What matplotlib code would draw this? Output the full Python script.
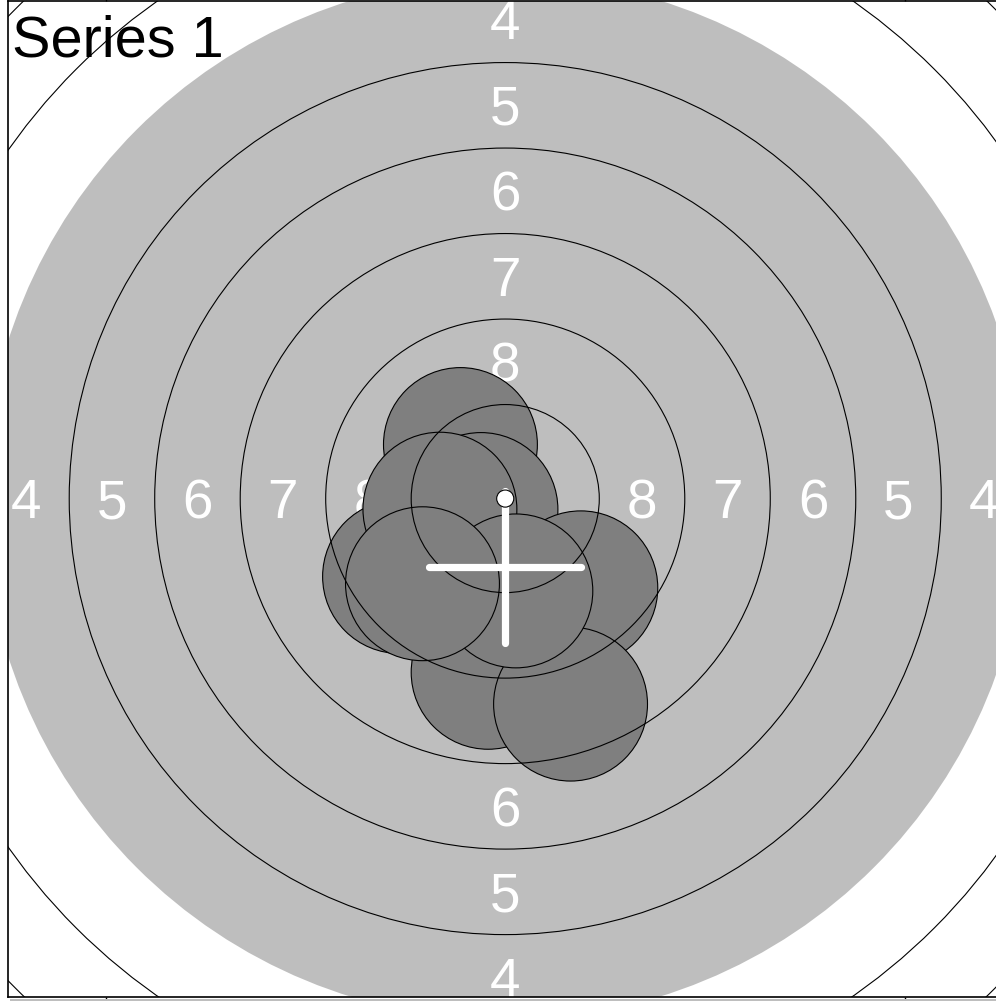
import matplotlib
matplotlib.use("Agg")
import matplotlib.pyplot as plt
from matplotlib.patches import Circle, Rectangle

# ---- data (mm, target centre = 0,0) ----
title = "Series 1"
ring_numbers = [10, 9, 8, 7, 6, 5, 4, 3, 2, 1]
ring_radii = [0.25, 2.75, 5.25, 7.75, 10.25, 12.75, 15.25, 17.75, 20.25, 22.75]
black_ring = 4                      # aiming mark covers rings 4..9
label_rings = [8, 7, 6, 5, 4, 3, 2, 1]
# shots in firing order
shot_x = [-1.31, -0.71, 2.21, -3.09, -1.91, -0.50, 1.91, 0.31, -2.42]
shot_y = [1.58, -0.32, -2.61, -2.28, -0.31, -5.08, -6.01, -2.70, -2.49]
pellet_radius = 2.25
cross_center = (0.0, -2.0)
cross_half = 2.22
tick_pos = [-11.68, 11.68]

W, H = 996, 1001
fig = plt.figure(figsize=(W / 100, H / 100), dpi=100)
ax = fig.add_axes([8 / W, (H - 996.5) / H, 995.5 / W, 995.5 / H])
ax.set_xlim(-14.54, 14.57)
ax.set_ylim(-14.56, 14.55)
ax.set_aspect("auto")

ring_r = dict(zip(ring_numbers, ring_radii))

# gray aiming mark
ax.add_patch(Circle((0, 0), ring_r[black_ring], facecolor="#BEBEBE",
                    edgecolor="none", zorder=1))

# ring labels (visually centred on ring mid-radius)
fs = 39.5
for k in label_rings:
    r_mid = ring_r[k] - 1.25
    col = "white" if k >= black_ring else "black"
    for (dx, dy) in [(0, 1), (0, -1), (-1, 0), (1, 0)]:
        ax.annotate(str(k), xy=(dx * r_mid, dy * r_mid), xytext=(0, -0.358 * fs),
                    textcoords="offset points", color=col, fontsize=fs,
                    ha="center", va="baseline", family="Liberation Sans",
                    zorder=2, annotation_clip=True, clip_on=True)

# shots
for x, y in zip(shot_x, shot_y):
    ax.add_patch(Circle((x, y), pellet_radius, facecolor="#7F7F7F",
                        edgecolor="black", linewidth=0.8, zorder=3))

# ring outlines
for k in ring_numbers:
    if k in (10, black_ring):
        continue
    ax.add_patch(Circle((0, 0), ring_r[k], facecolor="none",
                        edgecolor="black", linewidth=0.8, zorder=4))

# cross
cx, cy = cross_center
ax.plot([cx - cross_half, cx + cross_half], [cy, cy], color="white",
        lw=5.2, solid_capstyle="round", zorder=5)
ax.plot([cx, cx], [cy - cross_half, cy + cross_half], color="white",
        lw=5.2, solid_capstyle="round", zorder=5)

# ring 10 dot
ax.add_patch(Circle((0, 0), ring_r[10], facecolor="white",
                    edgecolor="black", linewidth=0.8, zorder=6))

for s in ax.spines.values():
    s.set_linewidth(1.2)
    s.set_zorder(10)
ax.set_xticks(tick_pos)
ax.set_yticks([])
ax.tick_params(axis="x", top=True, bottom=True, labelbottom=False,
               labeltop=False, direction="out", length=5, width=1)

fig.text(11.5 / W, 1 - 56.5 / H, title, fontsize=41.5, family="Liberation Sans",
         ha="left", va="baseline", color="black")

fig.patches.append(Rectangle((10 / W, 0), 1, 2.5 / H, transform=fig.transFigure,
                             facecolor="#BEBEBE", edgecolor="none", zorder=0))

fig.savefig("out.png", dpi=100)
